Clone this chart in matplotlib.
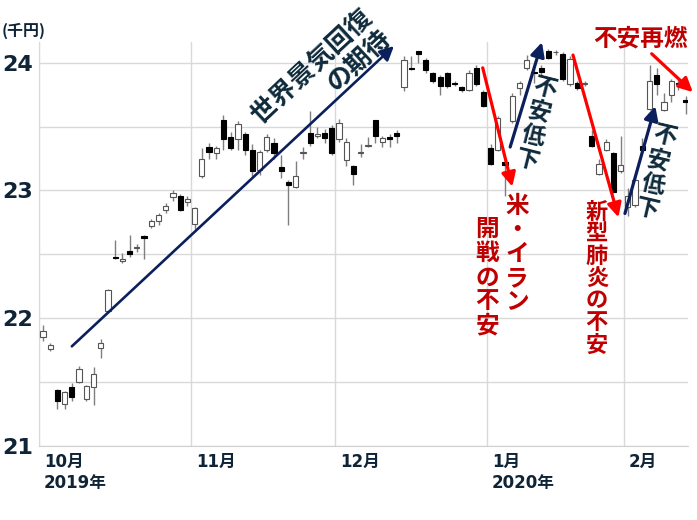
import numpy as np
import pandas as pd
import matplotlib.pyplot as plt
import matplotlib.transforms as mtransforms

plt.rcParams['font.family'] = ['DejaVu Sans', 'Noto Sans CJK JP']

# 取引日 (東証の休場日を除く)
holidays = ['2019-10-14', '2019-10-22', '2019-11-04', '2019-12-31',
            '2020-01-01', '2020-01-02', '2020-01-03', '2020-01-13', '2020-02-11']
dates = pd.bdate_range('2019-10-01', '2020-02-14', freq='C', holidays=holidays)

# 日経平均 (千円)
opens = [21.85, 21.76, 21.44, 21.33, 21.46, 21.50, 21.37, 21.46, 21.77, 22.06,
         22.48, 22.45, 22.53, 22.55, 22.64, 22.72, 22.76, 22.85, 22.95, 22.96,
         22.91, 22.74, 23.11, 23.34, 23.29, 23.55, 23.42, 23.40, 23.44, 23.32,
         23.16, 23.32, 23.37, 23.18, 23.07, 23.03, 23.29, 23.45, 23.43, 23.45,
         23.49, 23.40, 23.24, 23.19, 23.29, 23.35, 23.55, 23.38, 23.42, 23.45,
         23.81, 23.96, 24.09, 24.02, 23.92, 23.89, 23.92, 23.84, 23.81, 23.79,
         23.96, 23.77, 23.33, 23.32, 23.22, 23.54, 23.80, 23.96, 23.93, 23.96,
         24.09, 24.08, 24.07, 23.83, 23.84, 23.83, 23.43, 23.13, 23.32, 23.29,
         23.15, 22.87, 22.89, 23.35, 23.64, 23.90, 23.63, 23.75, 23.84, 23.71]
highs = [21.95, 21.81, 21.45, 21.43, 21.49, 21.63, 21.48, 21.62, 21.84, 22.23,
         22.61, 22.51, 22.65, 22.58, 22.65, 22.78, 22.82, 22.90, 23.00, 22.97,
         22.96, 22.87, 23.33, 23.37, 23.35, 23.59, 23.46, 23.54, 23.46, 23.36,
         23.32, 23.44, 23.41, 23.28, 23.08, 23.23, 23.34, 23.62, 23.50, 23.48,
         23.51, 23.56, 23.41, 23.20, 23.36, 23.42, 23.55, 23.43, 23.44, 23.47,
         24.05, 24.05, 24.09, 24.04, 23.93, 23.90, 23.93, 23.86, 23.82, 23.94,
         23.98, 23.79, 23.36, 23.58, 23.23, 23.76, 23.86, 24.06, 23.98, 23.98,
         24.11, 24.10, 24.08, 24.05, 23.86, 23.86, 23.47, 23.25, 23.40, 23.30,
         23.43, 23.02, 23.10, 23.41, 23.98, 23.96, 23.76, 23.87, 23.87, 23.74]
lows = [21.82, 21.74, 21.29, 21.29, 21.35, 21.49, 21.35, 21.32, 21.69, 22.04,
        22.46, 22.43, 22.48, 22.52, 22.46, 22.71, 22.73, 22.82, 22.92, 22.84,
        22.88, 22.70, 23.10, 23.25, 23.25, 23.32, 23.32, 23.32, 23.28, 23.11,
        23.12, 23.30, 23.25, 23.10, 22.73, 23.02, 23.25, 23.35, 23.41, 23.37,
        23.28, 23.38, 23.19, 23.04, 23.26, 23.34, 23.37, 23.34, 23.34, 23.37,
        23.78, 23.94, 24.00, 23.92, 23.84, 23.75, 23.80, 23.82, 23.77, 23.78,
        23.82, 23.65, 23.20, 23.31, 22.96, 23.53, 23.75, 23.94, 23.84, 23.90,
        24.03, 24.06, 23.86, 23.82, 23.79, 23.82, 23.34, 23.12, 23.31, 22.98,
        23.14, 22.80, 22.87, 23.32, 23.63, 23.75, 23.62, 23.69, 23.79, 23.60]
closes = [21.90, 21.79, 21.35, 21.42, 21.38, 21.60, 21.47, 21.56, 21.81, 22.22,
          22.47, 22.46, 22.50, 22.55, 22.63, 22.76, 22.81, 22.88, 22.98, 22.85,
          22.93, 22.86, 23.25, 23.30, 23.33, 23.40, 23.33, 23.52, 23.32, 23.15,
          23.30, 23.42, 23.29, 23.15, 23.04, 23.11, 23.30, 23.37, 23.44, 23.41,
          23.29, 23.53, 23.38, 23.13, 23.30, 23.35, 23.43, 23.41, 23.40, 23.43,
          24.02, 23.95, 24.07, 23.94, 23.86, 23.82, 23.82, 23.83, 23.79, 23.92,
          23.83, 23.66, 23.21, 23.57, 23.20, 23.74, 23.84, 24.02, 23.92, 23.93,
          24.04, 24.08, 23.87, 24.03, 23.80, 23.84, 23.35, 23.21, 23.38, 22.99,
          23.20, 22.96, 23.08, 23.32, 23.86, 23.83, 23.69, 23.86, 23.83, 23.69]

month_labels = ['10月\n2019年', '11月', '12月', '1月\n2020年', '2月']
y_ticks = [21, 22, 23, 24]

navy_text = '#0f2b3b'
navy_arrow = '#0b1f5c'
red_text = '#c00000'
red_arrow = '#ff0000'
cjk = ['Noto Sans CJK JP', 'DejaVu Sans']

o = np.array(opens)
h = np.array(highs)
l = np.array(lows)
c = np.array(closes)
x = np.arange(len(dates))
up = c >= o

fig = plt.figure(figsize=(6.97, 5.2), dpi=100)
ax = fig.add_axes([39 / 697, 74 / 520, 649 / 697, 404 / 520])

# グリッド
for v in np.arange(21, 24.01, 0.5):
    ax.axhline(v, color='#d9d9d9', lw=1, zorder=0)
firsts = [i for i in range(len(dates)) if i == 0 or dates[i].month != dates[i - 1].month]
for i in firsts:
    ax.axvline(i - 0.55, color='#d9d9d9', lw=1, zorder=0)

# ローソク足
ax.vlines(x, l, h, color='#7f7f7f', lw=1, zorder=2)
ax.bar(x, np.maximum(np.abs(c - o), 0.006), bottom=np.minimum(o, c), width=0.72,
       color=np.where(up, 'white', 'black'), edgecolor=np.where(up, '#555555', 'black'),
       lw=0.8, zorder=3)

ax.set_xlim(-0.55, 89.33)
ax.set_ylim(21, 24.162)
for s in ['top', 'right']:
    ax.spines[s].set_visible(False)
ax.spines['left'].set_color('#d9d9d9')
ax.spines['bottom'].set_color('#d0d0d0')
ax.set_xticks([])
ax.set_yticks(y_ticks)
ax.set_yticklabels([str(t) for t in y_ticks], fontsize=16, fontweight='bold', color='#0f2537')
ax.tick_params(length=0, pad=4)

trans = mtransforms.blended_transform_factory(ax.transData, ax.transAxes)
for i, lab in zip(firsts, month_labels):
    ax.text(i + 0.15, -0.017, lab, transform=trans, ha='left', va='top', fontsize=12,
            fontweight='bold', color='#0f2537', linespacing=1.25)

fig.text(0.002, 0.94, '(千円)', fontsize=11.5, fontweight='bold', color='#0f2537',
         va='center', ha='left', family=cjk)


def arrow(x0, y0, x1, y1, color, lw):
    ax.annotate('', xy=(x1, y1), xytext=(x0, y0), annotation_clip=False,
                arrowprops=dict(arrowstyle='-|>,head_length=0.7,head_width=0.35',
                                color=color, lw=lw, shrinkA=0, shrinkB=0,
                                mutation_scale=12), zorder=5)


def label(xp, yp, s, color, size=17, rot=0, **kw):
    ax.text(xp, yp, s, color=color, fontsize=size, fontweight='bold', family=cjk,
            rotation=rot, rotation_mode='anchor', ha='center', va='center',
            zorder=6, clip_on=False, **kw)


# 景気回復
arrow(4.0, 21.78, 48.6, 24.13, navy_arrow, 1.9)
label(38.5, 23.89, '世界景気回復\nの期待', navy_text, size=18.5, rot=43,
      multialignment='right', linespacing=1.05)

# 米・イラン
arrow(60.9, 23.96, 65.0, 23.03, red_arrow, 2.3)
label(65.65, 22.50, '\n'.join('米・イラン'), red_text, linespacing=1.0)
label(61.5, 22.32, '\n'.join('開戦の不安'), red_text, linespacing=1.0)

# 不安低下 1
arrow(64.7, 23.34, 69.1, 24.16, navy_arrow, 2.3)
label(68.3, 23.52, '\n'.join('不安低下'), navy_text, rot=-14, linespacing=1.05)

# 新型肺炎
arrow(73.4, 24.06, 79.7, 22.79, red_arrow, 2.3)
label(76.7, 22.31, '\n'.join('新型肺炎の不安'), red_text, size=16, linespacing=0.95)

# 不安低下 2
arrow(80.6, 22.82, 84.8, 23.66, navy_arrow, 2.3)
label(84.9, 23.14, '\n'.join('不安低下'), navy_text, rot=-13, linespacing=1.05)

# 不安再燃
arrow(84.3, 24.07, 90.0, 23.77, red_arrow, 2.3)
label(82.8, 24.19, '不安再燃', red_text)

fig.savefig('out.png', dpi=100)
